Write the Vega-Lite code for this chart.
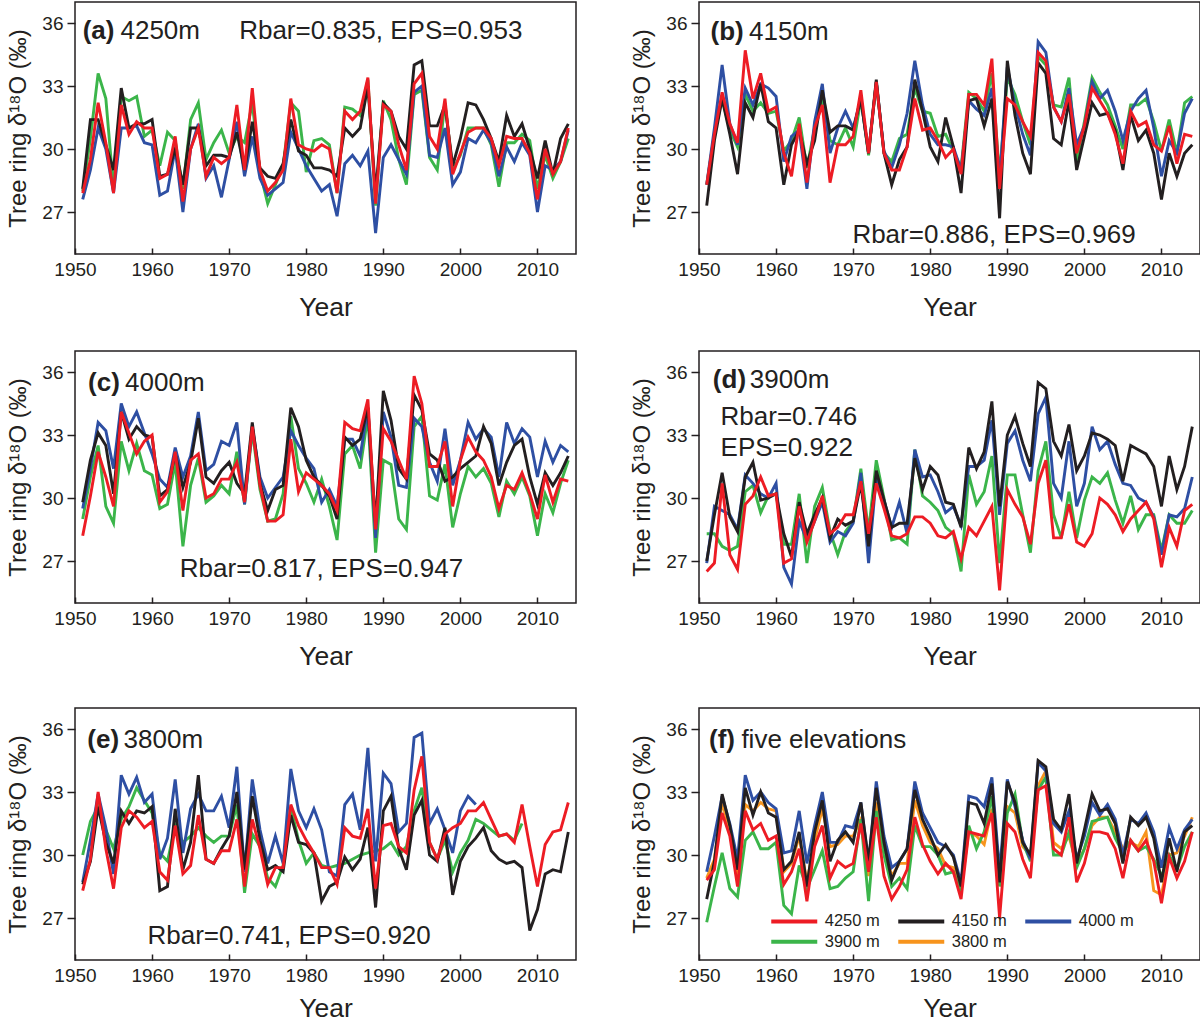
{
"$schema": "https://vega.github.io/schema/vega-lite/v6.json",
"padding": {"left": 6, "top": 1, "right": 0, "bottom": 0},
"config": {
 "font": "Liberation Sans",
 "view": {"stroke": "#231f20", "strokeWidth": 1.5},
 "axis": {"domain": false, "grid": false, "labelFont": "Liberation Sans", "labelFontSize": 19, "labelColor": "#231f20", "titleFont": "Liberation Sans", "titleFontWeight": "normal", "titleColor": "#231f20", "tickColor": "#231f20", "tickWidth": 1.5},
 "axisX": {"tickSize": -6, "labelPadding": 12, "titleFontSize": 26.5, "titlePadding": 15},
 "axisY": {"tickSize": 8, "labelPadding": 4, "titleFontSize": 24, "titlePadding": 11},
 "text": {"color": "#231f20", "fontSize": 26, "align": "left", "baseline": "middle"}
},
"datasets": {
"trees": [
{"p":"a","year":1951,"s1":28.0,"s2":27.6,"s3":28.1,"s4":27.9},
{"p":"a","year":1952,"s1":30.5,"s2":29.0,"s3":31.4,"s4":29.5},
{"p":"a","year":1953,"s1":33.6,"s2":31.0,"s3":31.4,"s4":32.2},
{"p":"a","year":1954,"s1":32.4,"s2":30.0,"s3":30.2,"s4":30.3},
{"p":"a","year":1955,"s1":28.1,"s2":27.9,"s3":29.0,"s4":27.9},
{"p":"a","year":1956,"s1":32.5,"s2":31.0,"s3":32.9,"s4":32.1},
{"p":"a","year":1957,"s1":32.3,"s2":31.0,"s3":31.0,"s4":30.7},
{"p":"a","year":1958,"s1":32.5,"s2":31.1,"s3":31.2,"s4":31.3},
{"p":"a","year":1959,"s1":30.6,"s2":30.3,"s3":31.2,"s4":31.0},
{"p":"a","year":1960,"s1":30.9,"s2":30.2,"s3":31.4,"s4":31.0},
{"p":"a","year":1961,"s1":29.2,"s2":27.8,"s3":28.7,"s4":28.6},
{"p":"a","year":1962,"s1":30.8,"s2":28.0,"s3":28.8,"s4":28.8},
{"p":"a","year":1963,"s1":30.4,"s2":30.0,"s3":30.0,"s4":30.6},
{"p":"a","year":1964,"s1":28.1,"s2":27.0,"s3":28.3,"s4":27.5},
{"p":"a","year":1965,"s1":31.4,"s2":30.0,"s3":31.0,"s4":30.0},
{"p":"a","year":1966,"s1":32.2,"s2":31.2,"s3":31.0,"s4":31.0},
{"p":"a","year":1967,"s1":29.5,"s2":28.6,"s3":29.2,"s4":28.7},
{"p":"a","year":1968,"s1":30.3,"s2":29.2,"s3":29.7,"s4":29.6},
{"p":"a","year":1969,"s1":30.9,"s2":27.7,"s3":29.7,"s4":29.3},
{"p":"a","year":1970,"s1":29.8,"s2":29.5,"s3":29.6,"s4":29.6},
{"p":"a","year":1971,"s1":30.6,"s2":31.3,"s3":30.8,"s4":32.1},
{"p":"a","year":1972,"s1":30.3,"s2":28.7,"s3":29.0,"s4":29.0},
{"p":"a","year":1973,"s1":32.2,"s2":30.6,"s3":31.3,"s4":32.9},
{"p":"a","year":1974,"s1":28.9,"s2":28.6,"s3":29.1,"s4":29.0},
{"p":"a","year":1975,"s1":27.4,"s2":27.8,"s3":28.7,"s4":28.0},
{"p":"a","year":1976,"s1":28.3,"s2":28.1,"s3":28.6,"s4":28.4},
{"p":"a","year":1977,"s1":29.2,"s2":28.4,"s3":29.3,"s4":29.0},
{"p":"a","year":1978,"s1":32.2,"s2":30.8,"s3":31.4,"s4":32.4},
{"p":"a","year":1979,"s1":31.8,"s2":30.0,"s3":29.9,"s4":30.2},
{"p":"a","year":1980,"s1":28.9,"s2":29.2,"s3":29.7,"s4":30.0},
{"p":"a","year":1981,"s1":30.4,"s2":28.6,"s3":29.1,"s4":29.9},
{"p":"a","year":1982,"s1":30.5,"s2":28.0,"s3":29.1,"s4":30.2},
{"p":"a","year":1983,"s1":30.2,"s2":28.3,"s3":29.0,"s4":30.0},
{"p":"a","year":1984,"s1":27.9,"s2":26.8,"s3":28.7,"s4":27.9},
{"p":"a","year":1985,"s1":32.0,"s2":29.3,"s3":31.0,"s4":31.8},
{"p":"a","year":1986,"s1":31.9,"s2":29.7,"s3":30.6,"s4":31.4},
{"p":"a","year":1987,"s1":31.6,"s2":29.2,"s3":31.0,"s4":31.8},
{"p":"a","year":1988,"s1":33.3,"s2":29.9,"s3":33.0,"s4":33.4},
{"p":"a","year":1989,"s1":27.3,"s2":26.0,"s3":27.9,"s4":27.4},
{"p":"a","year":1990,"s1":32.3,"s2":29.6,"s3":32.2,"s4":32.1},
{"p":"a","year":1991,"s1":31.4,"s2":30.2,"s3":31.8,"s4":31.8},
{"p":"a","year":1992,"s1":29.5,"s2":29.5,"s3":30.6,"s4":30.2},
{"p":"a","year":1993,"s1":28.3,"s2":28.8,"s3":30.0,"s4":29.0},
{"p":"a","year":1994,"s1":32.6,"s2":32.7,"s3":34.0,"s4":33.1},
{"p":"a","year":1995,"s1":32.8,"s2":33.0,"s3":34.2,"s4":33.6},
{"p":"a","year":1996,"s1":29.6,"s2":29.7,"s3":31.1,"s4":30.6},
{"p":"a","year":1997,"s1":29.0,"s2":29.6,"s3":31.1,"s4":30.0},
{"p":"a","year":1998,"s1":32.2,"s2":31.0,"s3":32.1,"s4":32.4},
{"p":"a","year":1999,"s1":29.0,"s2":28.3,"s3":29.2,"s4":28.8},
{"p":"a","year":2000,"s1":29.7,"s2":28.9,"s3":30.5,"s4":29.8},
{"p":"a","year":2001,"s1":31.0,"s2":30.5,"s3":32.2,"s4":30.8},
{"p":"a","year":2002,"s1":31.0,"s2":30.3,"s3":32.1,"s4":31.0},
{"p":"a","year":2003,"s1":31.0,"s2":30.9,"s3":31.4,"s4":31.0},
{"p":"a","year":2004,"s1":30.2,"s2":30.3,"s3":30.5,"s4":30.5},
{"p":"a","year":2005,"s1":28.2,"s2":28.7,"s3":29.4,"s4":29.2},
{"p":"a","year":2006,"s1":30.3,"s2":30.1,"s3":31.6,"s4":30.6},
{"p":"a","year":2007,"s1":30.3,"s2":29.4,"s3":30.6,"s4":30.5},
{"p":"a","year":2008,"s1":30.7,"s2":30.3,"s3":31.2,"s4":30.5},
{"p":"a","year":2009,"s1":30.4,"s2":29.7,"s3":30.0,"s4":29.8},
{"p":"a","year":2010,"s1":28.1,"s2":27.0,"s3":28.6,"s4":27.6},
{"p":"a","year":2011,"s1":29.7,"s2":29.2,"s3":30.4,"s4":30.0},
{"p":"a","year":2012,"s1":28.6,"s2":29.0,"s3":28.8,"s4":28.8},
{"p":"a","year":2013,"s1":29.4,"s2":29.4,"s3":30.5,"s4":29.4},
{"p":"a","year":2014,"s1":30.5,"s2":30.9,"s3":31.2,"s4":31.0},
{"p":"b","year":1951,"s1":28.3,"s2":28.3,"s3":27.3,"s4":28.3},
{"p":"b","year":1952,"s1":30.7,"s2":31.0,"s3":30.4,"s4":30.7},
{"p":"b","year":1953,"s1":32.4,"s2":34.0,"s3":32.4,"s4":32.7},
{"p":"b","year":1954,"s1":30.9,"s2":31.2,"s3":30.7,"s4":31.2},
{"p":"b","year":1955,"s1":30.1,"s2":30.2,"s3":28.8,"s4":30.3},
{"p":"b","year":1956,"s1":32.6,"s2":32.9,"s3":32.2,"s4":34.7},
{"p":"b","year":1957,"s1":31.8,"s2":32.1,"s3":31.5,"s4":32.4},
{"p":"b","year":1958,"s1":32.2,"s2":33.1,"s3":33.1,"s4":33.6},
{"p":"b","year":1959,"s1":31.7,"s2":32.9,"s3":31.3,"s4":31.8},
{"p":"b","year":1960,"s1":31.8,"s2":32.5,"s3":31.0,"s4":32.0},
{"p":"b","year":1961,"s1":29.9,"s2":29.4,"s3":28.3,"s4":29.8},
{"p":"b","year":1962,"s1":30.4,"s2":30.6,"s3":30.2,"s4":28.7},
{"p":"b","year":1963,"s1":31.5,"s2":30.9,"s3":30.9,"s4":31.2},
{"p":"b","year":1964,"s1":29.1,"s2":28.1,"s3":29.3,"s4":28.4},
{"p":"b","year":1965,"s1":31.0,"s2":31.3,"s3":30.4,"s4":31.0},
{"p":"b","year":1966,"s1":32.4,"s2":33.1,"s3":32.8,"s4":32.1},
{"p":"b","year":1967,"s1":30.4,"s2":29.8,"s3":30.8,"s4":28.4},
{"p":"b","year":1968,"s1":30.2,"s2":31.0,"s3":31.1,"s4":30.2},
{"p":"b","year":1969,"s1":31.0,"s2":31.8,"s3":31.1,"s4":30.2},
{"p":"b","year":1970,"s1":30.1,"s2":31.0,"s3":30.9,"s4":30.6},
{"p":"b","year":1971,"s1":32.4,"s2":32.4,"s3":32.4,"s4":32.8},
{"p":"b","year":1972,"s1":29.7,"s2":29.8,"s3":29.8,"s4":29.8},
{"p":"b","year":1973,"s1":33.2,"s2":33.2,"s3":33.3,"s4":33.2},
{"p":"b","year":1974,"s1":29.8,"s2":29.9,"s3":29.8,"s4":29.8},
{"p":"b","year":1975,"s1":29.4,"s2":29.1,"s3":28.3,"s4":29.0},
{"p":"b","year":1976,"s1":30.5,"s2":30.2,"s3":29.5,"s4":29.0},
{"p":"b","year":1977,"s1":30.7,"s2":31.7,"s3":30.1,"s4":30.1},
{"p":"b","year":1978,"s1":32.9,"s2":34.2,"s3":33.3,"s4":32.4},
{"p":"b","year":1979,"s1":31.8,"s2":32.1,"s3":31.8,"s4":30.9},
{"p":"b","year":1980,"s1":31.7,"s2":30.7,"s3":30.1,"s4":31.0},
{"p":"b","year":1981,"s1":30.6,"s2":30.2,"s3":29.4,"s4":30.4},
{"p":"b","year":1982,"s1":30.7,"s2":30.2,"s3":31.5,"s4":29.6},
{"p":"b","year":1983,"s1":29.9,"s2":30.1,"s3":30.1,"s4":30.0},
{"p":"b","year":1984,"s1":29.1,"s2":29.0,"s3":27.9,"s4":28.8},
{"p":"b","year":1985,"s1":32.7,"s2":32.3,"s3":32.3,"s4":32.6},
{"p":"b","year":1986,"s1":32.4,"s2":31.9,"s3":32.4,"s4":32.6},
{"p":"b","year":1987,"s1":31.8,"s2":31.6,"s3":31.1,"s4":32.1},
{"p":"b","year":1988,"s1":33.6,"s2":32.9,"s3":32.4,"s4":34.3},
{"p":"b","year":1989,"s1":28.7,"s2":28.5,"s3":26.7,"s4":28.1},
{"p":"b","year":1990,"s1":33.4,"s2":33.9,"s3":34.2,"s4":32.4},
{"p":"b","year":1991,"s1":32.6,"s2":32.1,"s3":31.6,"s4":32.1},
{"p":"b","year":1992,"s1":31.3,"s2":30.7,"s3":29.8,"s4":31.3},
{"p":"b","year":1993,"s1":30.2,"s2":29.7,"s3":28.8,"s4":30.6},
{"p":"b","year":1994,"s1":34.4,"s2":35.1,"s3":34.1,"s4":34.6},
{"p":"b","year":1995,"s1":34.0,"s2":34.6,"s3":33.6,"s4":34.2},
{"p":"b","year":1996,"s1":32.1,"s2":32.0,"s3":30.5,"s4":32.0},
{"p":"b","year":1997,"s1":32.0,"s2":31.3,"s3":30.2,"s4":31.3},
{"p":"b","year":1998,"s1":33.4,"s2":32.9,"s3":32.3,"s4":32.6},
{"p":"b","year":1999,"s1":29.4,"s2":30.2,"s3":29.0,"s4":29.8},
{"p":"b","year":2000,"s1":31.3,"s2":31.1,"s3":30.6,"s4":31.1},
{"p":"b","year":2001,"s1":33.4,"s2":33.2,"s3":32.2,"s4":32.9},
{"p":"b","year":2002,"s1":32.7,"s2":32.4,"s3":31.6,"s4":32.3},
{"p":"b","year":2003,"s1":32.1,"s2":32.8,"s3":31.7,"s4":31.7},
{"p":"b","year":2004,"s1":31.1,"s2":31.8,"s3":30.9,"s4":30.7},
{"p":"b","year":2005,"s1":30.0,"s2":30.4,"s3":29.0,"s4":29.3},
{"p":"b","year":2006,"s1":32.1,"s2":31.8,"s3":31.6,"s4":31.8},
{"p":"b","year":2007,"s1":32.1,"s2":32.4,"s3":30.4,"s4":31.1},
{"p":"b","year":2008,"s1":32.4,"s2":32.8,"s3":30.9,"s4":31.3},
{"p":"b","year":2009,"s1":31.3,"s2":31.0,"s3":29.8,"s4":30.2},
{"p":"b","year":2010,"s1":29.9,"s2":28.7,"s3":27.6,"s4":29.9},
{"p":"b","year":2011,"s1":31.4,"s2":30.4,"s3":29.8,"s4":31.1},
{"p":"b","year":2012,"s1":29.8,"s2":29.8,"s3":28.7,"s4":29.3},
{"p":"b","year":2013,"s1":32.2,"s2":31.7,"s3":29.8,"s4":30.7},
{"p":"b","year":2014,"s1":32.5,"s2":32.4,"s3":30.2,"s4":30.6},
{"p":"c","year":1951,"s1":29.0,"s2":29.5,"s3":29.8,"s4":28.2},
{"p":"c","year":1952,"s1":31.0,"s2":31.4,"s3":31.8,"s4":30.1},
{"p":"c","year":1953,"s1":32.5,"s2":33.6,"s3":33.1,"s4":32.2},
{"p":"c","year":1954,"s1":29.6,"s2":33.2,"s3":32.5,"s4":31.0},
{"p":"c","year":1955,"s1":28.8,"s2":31.4,"s3":30.2,"s4":29.6},
{"p":"c","year":1956,"s1":32.7,"s2":34.5,"s3":34.1,"s4":34.1},
{"p":"c","year":1957,"s1":31.3,"s2":33.4,"s3":32.8,"s4":33.1},
{"p":"c","year":1958,"s1":32.6,"s2":34.1,"s3":33.4,"s4":32.1},
{"p":"c","year":1959,"s1":31.3,"s2":33.1,"s3":33.0,"s4":32.7},
{"p":"c","year":1960,"s1":31.1,"s2":32.1,"s3":32.9,"s4":33.0},
{"p":"c","year":1961,"s1":29.5,"s2":30.9,"s3":30.1,"s4":29.8},
{"p":"c","year":1962,"s1":29.7,"s2":30.5,"s3":30.4,"s4":30.3},
{"p":"c","year":1963,"s1":31.7,"s2":32.4,"s3":32.1,"s4":32.2},
{"p":"c","year":1964,"s1":27.7,"s2":31.0,"s3":30.5,"s4":29.4},
{"p":"c","year":1965,"s1":30.6,"s2":32.0,"s3":31.7,"s4":31.8},
{"p":"c","year":1966,"s1":31.9,"s2":34.1,"s3":33.8,"s4":32.1},
{"p":"c","year":1967,"s1":29.8,"s2":31.3,"s3":31.0,"s4":30.0},
{"p":"c","year":1968,"s1":30.1,"s2":31.6,"s3":30.7,"s4":30.2},
{"p":"c","year":1969,"s1":30.6,"s2":32.7,"s3":31.3,"s4":30.9},
{"p":"c","year":1970,"s1":30.2,"s2":32.5,"s3":31.7,"s4":30.9},
{"p":"c","year":1971,"s1":32.2,"s2":33.6,"s3":30.7,"s4":31.7},
{"p":"c","year":1972,"s1":29.7,"s2":29.7,"s3":30.2,"s4":29.8},
{"p":"c","year":1973,"s1":33.2,"s2":33.4,"s3":33.6,"s4":33.4},
{"p":"c","year":1974,"s1":30.4,"s2":31.0,"s3":30.7,"s4":30.6},
{"p":"c","year":1975,"s1":28.9,"s2":30.0,"s3":29.4,"s4":28.9},
{"p":"c","year":1976,"s1":29.0,"s2":30.5,"s3":30.4,"s4":28.9},
{"p":"c","year":1977,"s1":30.2,"s2":31.0,"s3":30.6,"s4":29.2},
{"p":"c","year":1978,"s1":33.9,"s2":33.2,"s3":34.3,"s4":32.8},
{"p":"c","year":1979,"s1":31.4,"s2":32.5,"s3":33.4,"s4":30.3},
{"p":"c","year":1980,"s1":30.7,"s2":31.9,"s3":31.8,"s4":31.2},
{"p":"c","year":1981,"s1":29.8,"s2":31.4,"s3":31.0,"s4":30.9},
{"p":"c","year":1982,"s1":30.9,"s2":29.8,"s3":30.6,"s4":30.6},
{"p":"c","year":1983,"s1":29.6,"s2":30.4,"s3":30.1,"s4":30.2},
{"p":"c","year":1984,"s1":28.0,"s2":29.6,"s3":29.0,"s4":29.4},
{"p":"c","year":1985,"s1":32.1,"s2":32.8,"s3":32.9,"s4":33.6},
{"p":"c","year":1986,"s1":32.5,"s2":32.8,"s3":32.5,"s4":33.3},
{"p":"c","year":1987,"s1":31.4,"s2":32.0,"s3":32.8,"s4":33.2},
{"p":"c","year":1988,"s1":33.9,"s2":34.3,"s3":34.3,"s4":34.7},
{"p":"c","year":1989,"s1":27.4,"s2":28.1,"s3":28.7,"s4":28.5},
{"p":"c","year":1990,"s1":31.8,"s2":34.1,"s3":35.1,"s4":33.3},
{"p":"c","year":1991,"s1":31.6,"s2":32.9,"s3":33.7,"s4":32.7},
{"p":"c","year":1992,"s1":29.0,"s2":30.6,"s3":31.4,"s4":31.8},
{"p":"c","year":1993,"s1":28.5,"s2":30.5,"s3":30.9,"s4":30.9},
{"p":"c","year":1994,"s1":33.4,"s2":33.8,"s3":34.9,"s4":35.8},
{"p":"c","year":1995,"s1":33.9,"s2":33.4,"s3":34.2,"s4":34.5},
{"p":"c","year":1996,"s1":30.1,"s2":31.7,"s3":32.1,"s4":31.5},
{"p":"c","year":1997,"s1":29.9,"s2":30.8,"s3":31.8,"s4":31.5},
{"p":"c","year":1998,"s1":31.6,"s2":33.3,"s3":30.8,"s4":32.7},
{"p":"c","year":1999,"s1":28.6,"s2":30.6,"s3":31.0,"s4":29.6},
{"p":"c","year":2000,"s1":30.2,"s2":31.8,"s3":31.4,"s4":31.8},
{"p":"c","year":2001,"s1":31.5,"s2":33.6,"s3":31.7,"s4":32.9},
{"p":"c","year":2002,"s1":31.0,"s2":32.8,"s3":32.0,"s4":32.2},
{"p":"c","year":2003,"s1":31.4,"s2":33.3,"s3":33.4,"s4":31.8},
{"p":"c","year":2004,"s1":30.7,"s2":32.9,"s3":32.6,"s4":31.0},
{"p":"c","year":2005,"s1":29.1,"s2":31.0,"s3":30.6,"s4":29.5},
{"p":"c","year":2006,"s1":30.8,"s2":33.6,"s3":31.7,"s4":30.6},
{"p":"c","year":2007,"s1":30.2,"s2":32.6,"s3":32.5,"s4":30.4},
{"p":"c","year":2008,"s1":31.0,"s2":33.3,"s3":32.8,"s4":31.2},
{"p":"c","year":2009,"s1":30.1,"s2":32.9,"s3":31.0,"s4":30.2},
{"p":"c","year":2010,"s1":28.2,"s2":31.0,"s3":29.7,"s4":29.0},
{"p":"c","year":2011,"s1":30.2,"s2":32.7,"s3":31.2,"s4":31.1},
{"p":"c","year":2012,"s1":29.3,"s2":31.7,"s3":30.6,"s4":29.8},
{"p":"c","year":2013,"s1":30.7,"s2":32.5,"s3":31.2,"s4":30.9},
{"p":"c","year":2014,"s1":31.8,"s2":32.2,"s3":32.0,"s4":30.8},
{"p":"d","year":1951,"s1":28.3,"s2":26.9,"s3":27.0,"s4":26.5},
{"p":"d","year":1952,"s1":28.3,"s2":29.6,"s3":29.2,"s4":26.9},
{"p":"d","year":1953,"s1":27.7,"s2":29.4,"s3":31.2,"s4":30.7},
{"p":"d","year":1954,"s1":27.5,"s2":29.2,"s3":29.1,"s4":27.3},
{"p":"d","year":1955,"s1":27.7,"s2":28.5,"s3":28.4,"s4":26.6},
{"p":"d","year":1956,"s1":30.3,"s2":31.1,"s3":31.0,"s4":29.7},
{"p":"d","year":1957,"s1":30.6,"s2":30.7,"s3":31.7,"s4":30.1},
{"p":"d","year":1958,"s1":29.3,"s2":30.2,"s3":29.9,"s4":31.0},
{"p":"d","year":1959,"s1":30.1,"s2":30.0,"s3":30.0,"s4":30.1},
{"p":"d","year":1960,"s1":30.2,"s2":30.7,"s3":30.2,"s4":30.2},
{"p":"d","year":1961,"s1":27.8,"s2":26.7,"s3":28.3,"s4":26.9},
{"p":"d","year":1962,"s1":27.8,"s2":25.9,"s3":27.2,"s4":27.1},
{"p":"d","year":1963,"s1":30.2,"s2":28.9,"s3":29.8,"s4":29.6},
{"p":"d","year":1964,"s1":26.9,"s2":28.0,"s3":28.3,"s4":27.9},
{"p":"d","year":1965,"s1":29.6,"s2":28.9,"s3":29.2,"s4":28.9},
{"p":"d","year":1966,"s1":30.5,"s2":29.8,"s3":30.0,"s4":30.1},
{"p":"d","year":1967,"s1":28.4,"s2":27.9,"s3":28.1,"s4":28.3},
{"p":"d","year":1968,"s1":27.3,"s2":28.4,"s3":29.0,"s4":28.6},
{"p":"d","year":1969,"s1":28.4,"s2":28.2,"s3":28.7,"s4":29.2},
{"p":"d","year":1970,"s1":28.9,"s2":28.8,"s3":28.9,"s4":29.2},
{"p":"d","year":1971,"s1":31.4,"s2":31.2,"s3":30.7,"s4":30.8},
{"p":"d","year":1972,"s1":28.4,"s2":26.9,"s3":27.7,"s4":28.3},
{"p":"d","year":1973,"s1":31.8,"s2":31.0,"s3":31.3,"s4":30.7},
{"p":"d","year":1974,"s1":30.0,"s2":29.9,"s3":29.9,"s4":29.5},
{"p":"d","year":1975,"s1":28.0,"s2":28.6,"s3":28.6,"s4":28.2},
{"p":"d","year":1976,"s1":28.1,"s2":29.8,"s3":28.8,"s4":28.1},
{"p":"d","year":1977,"s1":27.8,"s2":28.3,"s3":28.8,"s4":28.3},
{"p":"d","year":1978,"s1":32.3,"s2":32.3,"s3":31.9,"s4":29.1},
{"p":"d","year":1979,"s1":30.1,"s2":31.0,"s3":30.4,"s4":29.1},
{"p":"d","year":1980,"s1":29.8,"s2":31.1,"s3":31.5,"s4":28.8},
{"p":"d","year":1981,"s1":29.4,"s2":30.3,"s3":31.1,"s4":28.2},
{"p":"d","year":1982,"s1":28.6,"s2":29.3,"s3":29.8,"s4":28.1},
{"p":"d","year":1983,"s1":28.3,"s2":29.6,"s3":29.7,"s4":28.4},
{"p":"d","year":1984,"s1":26.5,"s2":28.7,"s3":28.6,"s4":27.1},
{"p":"d","year":1985,"s1":31.1,"s2":31.5,"s3":32.4,"s4":28.6},
{"p":"d","year":1986,"s1":29.7,"s2":31.5,"s3":31.4,"s4":28.2},
{"p":"d","year":1987,"s1":30.3,"s2":31.8,"s3":32.2,"s4":28.9},
{"p":"d","year":1988,"s1":32.0,"s2":33.7,"s3":34.6,"s4":29.6},
{"p":"d","year":1989,"s1":26.9,"s2":29.2,"s3":29.6,"s4":25.6},
{"p":"d","year":1990,"s1":31.1,"s2":32.6,"s3":33.0,"s4":30.4},
{"p":"d","year":1991,"s1":31.1,"s2":33.2,"s3":33.9,"s4":29.7},
{"p":"d","year":1992,"s1":29.2,"s2":31.8,"s3":32.6,"s4":29.1},
{"p":"d","year":1993,"s1":27.4,"s2":30.8,"s3":31.5,"s4":27.8},
{"p":"d","year":1994,"s1":31.3,"s2":34.0,"s3":35.5,"s4":30.7},
{"p":"d","year":1995,"s1":32.7,"s2":34.8,"s3":35.2,"s4":31.8},
{"p":"d","year":1996,"s1":29.2,"s2":30.7,"s3":32.7,"s4":28.1},
{"p":"d","year":1997,"s1":28.1,"s2":30.0,"s3":32.0,"s4":28.1},
{"p":"d","year":1998,"s1":30.3,"s2":32.7,"s3":33.5,"s4":29.7},
{"p":"d","year":1999,"s1":28.1,"s2":29.6,"s3":31.3,"s4":27.9},
{"p":"d","year":2000,"s1":29.9,"s2":30.7,"s3":32.0,"s4":27.7},
{"p":"d","year":2001,"s1":31.0,"s2":33.4,"s3":33.1,"s4":28.3},
{"p":"d","year":2002,"s1":30.7,"s2":32.3,"s3":33.0,"s4":30.0},
{"p":"d","year":2003,"s1":31.2,"s2":32.7,"s3":32.8,"s4":29.7},
{"p":"d","year":2004,"s1":29.9,"s2":31.6,"s3":32.5,"s4":29.2},
{"p":"d","year":2005,"s1":28.8,"s2":30.7,"s3":30.8,"s4":28.4},
{"p":"d","year":2006,"s1":30.1,"s2":30.6,"s3":32.5,"s4":29.0},
{"p":"d","year":2007,"s1":28.5,"s2":30.0,"s3":32.3,"s4":29.4},
{"p":"d","year":2008,"s1":29.2,"s2":29.8,"s3":32.1,"s4":29.8},
{"p":"d","year":2009,"s1":29.2,"s2":29.1,"s3":31.5,"s4":29.0},
{"p":"d","year":2010,"s1":27.5,"s2":27.3,"s3":29.6,"s4":26.7},
{"p":"d","year":2011,"s1":29.2,"s2":29.2,"s3":32.0,"s4":28.6},
{"p":"d","year":2012,"s1":28.8,"s2":29.1,"s3":30.4,"s4":27.7},
{"p":"d","year":2013,"s1":28.8,"s2":29.5,"s3":31.5,"s4":29.4},
{"p":"d","year":2014,"s1":29.4,"s2":31.0,"s3":33.4,"s4":29.7},
{"p":"e","year":1951,"s1":30.0,"s2":28.7,"s3":28.6,"s4":28.3},
{"p":"e","year":1952,"s1":31.6,"s2":30.7,"s3":29.7,"s4":29.8},
{"p":"e","year":1953,"s1":32.3,"s2":32.9,"s3":32.3,"s4":33.0},
{"p":"e","year":1954,"s1":31.2,"s2":31.3,"s3":30.6,"s4":30.3},
{"p":"e","year":1955,"s1":30.3,"s2":29.1,"s3":29.6,"s4":28.4},
{"p":"e","year":1956,"s1":31.7,"s2":33.8,"s3":32.1,"s4":31.3},
{"p":"e","year":1957,"s1":32.3,"s2":32.9,"s3":31.5,"s4":32.1},
{"p":"e","year":1958,"s1":33.2,"s2":33.7,"s3":32.1,"s4":31.8},
{"p":"e","year":1959,"s1":32.6,"s2":32.5,"s3":32.0,"s4":31.3},
{"p":"e","year":1960,"s1":32.0,"s2":32.9,"s3":32.3,"s4":31.6},
{"p":"e","year":1961,"s1":30.1,"s2":29.8,"s3":28.3,"s4":29.2},
{"p":"e","year":1962,"s1":29.7,"s2":30.8,"s3":28.5,"s4":28.8},
{"p":"e","year":1963,"s1":31.4,"s2":33.6,"s3":32.2,"s4":31.4},
{"p":"e","year":1964,"s1":30.6,"s2":30.1,"s3":29.3,"s4":29.1},
{"p":"e","year":1965,"s1":30.9,"s2":32.2,"s3":30.6,"s4":29.5},
{"p":"e","year":1966,"s1":31.3,"s2":32.9,"s3":33.8,"s4":31.9},
{"p":"e","year":1967,"s1":30.9,"s2":32.1,"s3":29.8,"s4":29.8},
{"p":"e","year":1968,"s1":30.6,"s2":32.1,"s3":29.6,"s4":29.6},
{"p":"e","year":1969,"s1":30.9,"s2":32.8,"s3":30.3,"s4":30.2},
{"p":"e","year":1970,"s1":30.9,"s2":31.3,"s3":30.9,"s4":30.2},
{"p":"e","year":1971,"s1":32.4,"s2":34.2,"s3":33.0,"s4":31.7},
{"p":"e","year":1972,"s1":28.2,"s2":29.2,"s3":29.3,"s4":28.5},
{"p":"e","year":1973,"s1":31.0,"s2":33.6,"s3":32.8,"s4":31.7},
{"p":"e","year":1974,"s1":30.4,"s2":31.2,"s3":30.7,"s4":30.3},
{"p":"e","year":1975,"s1":28.9,"s2":29.6,"s3":29.3,"s4":28.6},
{"p":"e","year":1976,"s1":28.5,"s2":30.9,"s3":29.5,"s4":29.4},
{"p":"e","year":1977,"s1":29.5,"s2":29.6,"s3":29.2,"s4":29.4},
{"p":"e","year":1978,"s1":32.3,"s2":34.1,"s3":31.9,"s4":32.4},
{"p":"e","year":1979,"s1":30.7,"s2":32.1,"s3":30.6,"s4":31.4},
{"p":"e","year":1980,"s1":29.6,"s2":31.3,"s3":30.5,"s4":30.7},
{"p":"e","year":1981,"s1":30.1,"s2":32.2,"s3":30.1,"s4":30.1},
{"p":"e","year":1982,"s1":29.5,"s2":31.2,"s3":27.8,"s4":29.4},
{"p":"e","year":1983,"s1":29.4,"s2":29.2,"s3":28.5,"s4":29.4},
{"p":"e","year":1984,"s1":29.5,"s2":29.0,"s3":28.7,"s4":28.6},
{"p":"e","year":1985,"s1":29.6,"s2":32.4,"s3":29.9,"s4":31.3},
{"p":"e","year":1986,"s1":29.8,"s2":32.9,"s3":29.3,"s4":30.9},
{"p":"e","year":1987,"s1":30.0,"s2":31.2,"s3":29.8,"s4":30.8},
{"p":"e","year":1988,"s1":30.1,"s2":35.1,"s3":31.3,"s4":32.2},
{"p":"e","year":1989,"s1":30.2,"s2":29.7,"s3":27.5,"s4":28.4},
{"p":"e","year":1990,"s1":30.3,"s2":33.9,"s3":32.1,"s4":31.4},
{"p":"e","year":1991,"s1":30.6,"s2":33.4,"s3":32.8,"s4":31.5},
{"p":"e","year":1992,"s1":30.0,"s2":31.1,"s3":30.3,"s4":30.4},
{"p":"e","year":1993,"s1":30.4,"s2":31.5,"s3":29.3,"s4":30.1},
{"p":"e","year":1994,"s1":32.1,"s2":35.6,"s3":31.9,"s4":33.1},
{"p":"e","year":1995,"s1":33.2,"s2":35.8,"s3":32.6,"s4":34.7},
{"p":"e","year":1996,"s1":30.6,"s2":31.5,"s3":30.0,"s4":30.6},
{"p":"e","year":1997,"s1":29.8,"s2":32.2,"s3":29.7,"s4":29.8},
{"p":"e","year":1998,"s1":30.7,"s2":31.2,"s3":31.3,"s4":31.0},
{"p":"e","year":1999,"s1":29.2,"s2":30.1,"s3":28.1,"s4":31.3},
{"p":"e","year":2000,"s1":30.1,"s2":32.1,"s3":29.7,"s4":31.5},
{"p":"e","year":2001,"s1":30.7,"s2":32.8,"s3":30.4,"s4":32.1},
{"p":"e","year":2002,"s1":31.7,"s2":32.4,"s3":30.8,"s4":32.1},
{"p":"e","year":2003,"s1":31.5,"s2":null,"s3":31.3,"s4":32.5},
{"p":"e","year":2004,"s1":31.2,"s2":null,"s3":30.2,"s4":31.7},
{"p":"e","year":2005,"s1":30.9,"s2":null,"s3":29.8,"s4":30.9},
{"p":"e","year":2006,"s1":31.0,"s2":null,"s3":29.6,"s4":31.0},
{"p":"e","year":2007,"s1":30.7,"s2":null,"s3":29.7,"s4":30.6},
{"p":"e","year":2008,"s1":31.5,"s2":null,"s3":29.4,"s4":32.4},
{"p":"e","year":2009,"s1":null,"s2":null,"s3":26.4,"s4":30.4},
{"p":"e","year":2010,"s1":null,"s2":null,"s3":27.4,"s4":28.5},
{"p":"e","year":2011,"s1":null,"s2":null,"s3":29.1,"s4":30.5},
{"p":"e","year":2012,"s1":null,"s2":null,"s3":29.3,"s4":31.1},
{"p":"e","year":2013,"s1":null,"s2":null,"s3":29.2,"s4":31.2},
{"p":"e","year":2014,"s1":null,"s2":null,"s3":31.1,"s4":32.5}
],
"elev": [
{"year":1951,"m3800":28.9,"m3900":26.8,"m4000":29.2,"m4150":27.9,"m4250":28.8},
{"year":1952,"m3800":29.8,"m3900":28.5,"m4000":30.9,"m4150":29.7,"m4250":29.3},
{"year":1953,"m3800":32.5,"m3900":30.1,"m4000":32.8,"m4150":32.9,"m4250":32.0},
{"year":1954,"m3800":31.2,"m3900":28.4,"m4000":31.5,"m4150":31.4,"m4250":30.9},
{"year":1955,"m3800":29.0,"m3900":28.0,"m4000":29.8,"m4150":29.3,"m4250":28.5},
{"year":1956,"m3800":32.4,"m3900":30.7,"m4000":33.8,"m4150":33.2,"m4250":32.1},
{"year":1957,"m3800":32.1,"m3900":31.1,"m4000":32.6,"m4150":31.9,"m4250":31.2},
{"year":1958,"m3800":32.5,"m3900":30.3,"m4000":33.0,"m4150":33.0,"m4250":31.5},
{"year":1959,"m3800":32.2,"m3900":30.3,"m4000":32.5,"m4150":32.0,"m4250":30.7},
{"year":1960,"m3800":32.1,"m3900":30.6,"m4000":32.2,"m4150":31.8,"m4250":30.9},
{"year":1961,"m3800":29.2,"m3900":27.6,"m4000":30.1,"m4150":29.3,"m4250":28.6},
{"year":1962,"m3800":29.6,"m3900":27.2,"m4000":30.2,"m4150":29.7,"m4250":29.2},
{"year":1963,"m3800":30.9,"m3900":29.5,"m4000":32.1,"m4150":31.1,"m4250":30.3},
{"year":1964,"m3800":28.7,"m3900":28.4,"m4000":29.6,"m4150":28.5,"m4250":27.8},
{"year":1965,"m3800":30.7,"m3900":29.3,"m4000":31.4,"m4150":31.1,"m4250":30.4},
{"year":1966,"m3800":32.2,"m3900":30.2,"m4000":33.0,"m4150":32.6,"m4250":31.4},
{"year":1967,"m3800":30.4,"m3900":28.4,"m4000":30.6,"m4150":29.7,"m4250":28.9},
{"year":1968,"m3800":30.5,"m3900":28.5,"m4000":30.6,"m4150":30.7,"m4250":29.7},
{"year":1969,"m3800":30.9,"m3900":28.9,"m4000":31.4,"m4150":31.1,"m4250":29.4},
{"year":1970,"m3800":30.9,"m3900":29.2,"m4000":31.3,"m4150":30.6,"m4250":29.6},
{"year":1971,"m3800":31.7,"m3900":31.7,"m4000":32.5,"m4150":32.5,"m4250":31.5},
{"year":1972,"m3800":29.0,"m3900":27.8,"m4000":29.6,"m4150":29.7,"m4250":29.2},
{"year":1973,"m3800":32.5,"m3900":32.1,"m4000":33.5,"m4150":33.2,"m4250":31.8},
{"year":1974,"m3800":30.4,"m3900":30.0,"m4000":30.9,"m4150":30.6,"m4250":29.0},
{"year":1975,"m3800":29.0,"m3900":28.5,"m4000":29.4,"m4150":28.8,"m4250":27.9},
{"year":1976,"m3800":29.6,"m3900":28.9,"m4000":29.7,"m4150":29.7,"m4250":28.5},
{"year":1977,"m3800":29.6,"m3900":28.4,"m4000":30.3,"m4150":30.3,"m4250":29.3},
{"year":1978,"m3800":32.6,"m3900":31.4,"m4000":33.5,"m4150":33.1,"m4250":31.8},
{"year":1979,"m3800":31.4,"m3900":30.4,"m4000":32.0,"m4150":31.7,"m4250":30.5},
{"year":1980,"m3800":30.6,"m3900":30.4,"m4000":31.3,"m4150":30.9,"m4250":29.7},
{"year":1981,"m3800":30.3,"m3900":30.0,"m4000":30.6,"m4150":30.0,"m4250":29.1},
{"year":1982,"m3800":29.5,"m3900":29.1,"m4000":30.4,"m4150":30.5,"m4250":29.6},
{"year":1983,"m3800":29.4,"m3900":29.2,"m4000":30.0,"m4150":29.9,"m4250":29.2},
{"year":1984,"m3800":28.4,"m3900":28.2,"m4000":28.7,"m4150":28.5,"m4250":27.9},
{"year":1985,"m3800":31.1,"m3900":31.4,"m4000":32.8,"m4150":32.5,"m4250":31.1},
{"year":1986,"m3800":30.9,"m3900":30.3,"m4000":32.7,"m4150":32.4,"m4250":31.0},
{"year":1987,"m3800":30.5,"m3900":31.1,"m4000":32.3,"m4150":31.5,"m4250":30.9},
{"year":1988,"m3800":32.2,"m3900":32.8,"m4000":33.7,"m4150":33.4,"m4250":32.0},
{"year":1989,"m3800":28.7,"m3900":28.5,"m4000":29.2,"m4150":28.7,"m4250":27.0},
{"year":1990,"m3800":32.3,"m3900":32.0,"m4000":33.6,"m4150":33.5,"m4250":31.5},
{"year":1991,"m3800":32.0,"m3900":32.9,"m4000":32.3,"m4150":32.5,"m4250":31.1},
{"year":1992,"m3800":30.4,"m3900":30.6,"m4000":30.7,"m4150":30.6,"m4250":29.8},
{"year":1993,"m3800":30.0,"m3900":29.7,"m4000":29.8,"m4150":30.0,"m4250":28.9},
{"year":1994,"m3800":33.3,"m3900":33.1,"m4000":34.4,"m4150":34.5,"m4250":33.1},
{"year":1995,"m3800":34.0,"m3900":33.7,"m4000":34.0,"m4150":34.2,"m4250":33.3},
{"year":1996,"m3800":30.6,"m3900":30.0,"m4000":31.5,"m4150":31.7,"m4250":30.3},
{"year":1997,"m3800":30.3,"m3900":30.0,"m4000":31.1,"m4150":31.2,"m4250":30.0},
{"year":1998,"m3800":30.9,"m3900":31.1,"m4000":32.1,"m4150":32.9,"m4250":31.8},
{"year":1999,"m3800":29.5,"m3900":29.4,"m4000":29.8,"m4150":29.6,"m4250":28.7},
{"year":2000,"m3800":30.3,"m3900":30.3,"m4000":30.9,"m4150":31.2,"m4250":29.6},
{"year":2001,"m3800":31.4,"m3900":31.6,"m4000":32.5,"m4150":32.9,"m4250":31.1},
{"year":2002,"m3800":31.8,"m3900":31.7,"m4000":31.9,"m4150":32.1,"m4250":31.1},
{"year":2003,"m3800":31.8,"m3900":31.8,"m4000":32.4,"m4150":32.2,"m4250":31.0},
{"year":2004,"m3800":31.1,"m3900":30.8,"m4000":31.7,"m4150":31.5,"m4250":30.3},
{"year":2005,"m3800":30.3,"m3900":30.1,"m4000":30.0,"m4150":29.6,"m4250":28.9},
{"year":2006,"m3800":30.6,"m3900":30.7,"m4000":31.7,"m4150":31.8,"m4250":30.7},
{"year":2007,"m3800":30.4,"m3900":30.2,"m4000":31.5,"m4150":31.4,"m4250":30.2},
{"year":2008,"m3800":31.1,"m3900":30.4,"m4000":32.0,"m4150":31.8,"m4250":30.7},
{"year":2009,"m3800":28.3,"m3900":29.8,"m4000":31.1,"m4150":30.8,"m4250":29.7},
{"year":2010,"m3800":28.1,"m3900":29.0,"m4000":29.4,"m4150":28.7,"m4250":27.7},
{"year":2011,"m3800":30.0,"m3900":30.0,"m4000":31.3,"m4150":30.8,"m4250":29.9},
{"year":2012,"m3800":30.1,"m3900":29.3,"m4000":30.3,"m4150":29.2,"m4250":28.9},
{"year":2013,"m3800":30.9,"m3900":30.4,"m4000":31.2,"m4150":31.1,"m4250":29.7},
{"year":2014,"m3800":31.8,"m3900":31.1,"m4000":31.7,"m4150":31.4,"m4250":31.1}
]
},
"spacing": 28,
"resolve": {"scale": {"color": "independent"}, "legend": {"color": "independent"}},
"vconcat": [
{"hconcat": [
 {"width": 501, "height": 252, "layer": [
  {"data": {"name": "trees"}, "transform": [{"filter": "datum.p === 'a'"}, {"fold": ["s1","s2","s3","s4"], "as": ["series","v"]}],
   "mark": {"type": "line", "strokeWidth": 2.9},
   "encoding": {
    "x": {"field": "year", "type": "quantitative", "scale": {"domain": [1950, 2015], "nice": false, "zero": false}, "axis": {"title": "Year", "values": [1950,1955,1960,1965,1970,1975,1980,1985,1990,1995,2000,2005,2010,2015], "format": "d", "labelExpr": "datum.value % 10 === 0 ? datum.label : ''", "labelFlush": false}},
    "y": {"field": "v", "type": "quantitative", "scale": {"domain": [25, 37], "nice": false, "zero": false}, "axis": {"title": "Tree ring δ¹⁸O (‰)", "values": [27,30,33,36]}},
    "color": {"field": "series", "type": "nominal", "scale": {"domain": ["s1","s2","s3","s4"], "range": ["#3bb54a","#2e4fa3","#231f20","#ed1c24"]}, "legend": null}}},
  {"data": {"values": [{"t": "(a)"}]}, "mark": {"type": "text", "fontWeight": "bold"}, "encoding": {"x": {"datum": 1951.0}, "y": {"datum": 35.6}, "text": {"field": "t"}}},
  {"data": {"values": [{"t": "4250m"}]}, "mark": {"type": "text"}, "encoding": {"x": {"datum": 1955.9}, "y": {"datum": 35.6}, "text": {"field": "t"}}},
  {"data": {"values": [{"t": "Rbar=0.835, EPS=0.953"}]}, "mark": {"type": "text"}, "encoding": {"x": {"datum": 1971.3}, "y": {"datum": 35.6}, "text": {"field": "t"}}}
 ]},
 {"width": 501, "height": 252, "layer": [
  {"data": {"name": "trees"}, "transform": [{"filter": "datum.p === 'b'"}, {"fold": ["s1","s2","s3","s4"], "as": ["series","v"]}],
   "mark": {"type": "line", "strokeWidth": 2.9},
   "encoding": {
    "x": {"field": "year", "type": "quantitative", "scale": {"domain": [1950, 2015], "nice": false, "zero": false}, "axis": {"title": "Year", "values": [1950,1955,1960,1965,1970,1975,1980,1985,1990,1995,2000,2005,2010,2015], "format": "d", "labelExpr": "datum.value % 10 === 0 ? datum.label : ''", "labelFlush": false}},
    "y": {"field": "v", "type": "quantitative", "scale": {"domain": [25, 37], "nice": false, "zero": false}, "axis": {"title": "Tree ring δ¹⁸O (‰)", "values": [27,30,33,36]}},
    "color": {"field": "series", "type": "nominal", "scale": {"domain": ["s1","s2","s3","s4"], "range": ["#3bb54a","#2e4fa3","#231f20","#ed1c24"]}, "legend": null}}},
  {"data": {"values": [{"t": "(b)"}]}, "mark": {"type": "text", "fontWeight": "bold"}, "encoding": {"x": {"datum": 1951.5}, "y": {"datum": 35.55}, "text": {"field": "t"}}},
  {"data": {"values": [{"t": "4150m"}]}, "mark": {"type": "text"}, "encoding": {"x": {"datum": 1956.5}, "y": {"datum": 35.55}, "text": {"field": "t"}}},
  {"data": {"values": [{"t": "Rbar=0.886, EPS=0.969"}]}, "mark": {"type": "text"}, "encoding": {"x": {"datum": 1969.9}, "y": {"datum": 25.9}, "text": {"field": "t"}}}
 ]}
], "spacing": 53, "resolve": {"scale": {"color": "independent"}, "legend": {"color": "independent"}}},
{"vconcat": [
{"hconcat": [
 {"width": 501, "height": 252, "layer": [
  {"data": {"name": "trees"}, "transform": [{"filter": "datum.p === 'c'"}, {"fold": ["s1","s2","s3","s4"], "as": ["series","v"]}],
   "mark": {"type": "line", "strokeWidth": 2.9},
   "encoding": {
    "x": {"field": "year", "type": "quantitative", "scale": {"domain": [1950, 2015], "nice": false, "zero": false}, "axis": {"title": "Year", "values": [1950,1955,1960,1965,1970,1975,1980,1985,1990,1995,2000,2005,2010,2015], "format": "d", "labelExpr": "datum.value % 10 === 0 ? datum.label : ''", "labelFlush": false}},
    "y": {"field": "v", "type": "quantitative", "scale": {"domain": [25, 37], "nice": false, "zero": false}, "axis": {"title": "Tree ring δ¹⁸O (‰)", "values": [27,30,33,36]}},
    "color": {"field": "series", "type": "nominal", "scale": {"domain": ["s1","s2","s3","s4"], "range": ["#3bb54a","#2e4fa3","#231f20","#ed1c24"]}, "legend": null}}},
  {"data": {"values": [{"t": "(c)"}]}, "mark": {"type": "text", "fontWeight": "bold"}, "encoding": {"x": {"datum": 1951.7}, "y": {"datum": 35.5}, "text": {"field": "t"}}},
  {"data": {"values": [{"t": "4000m"}]}, "mark": {"type": "text"}, "encoding": {"x": {"datum": 1956.5}, "y": {"datum": 35.5}, "text": {"field": "t"}}},
  {"data": {"values": [{"t": "Rbar=0.817, EPS=0.947"}]}, "mark": {"type": "text"}, "encoding": {"x": {"datum": 1963.6}, "y": {"datum": 26.6}, "text": {"field": "t"}}}
 ]},
 {"width": 501, "height": 252, "layer": [
  {"data": {"name": "trees"}, "transform": [{"filter": "datum.p === 'd'"}, {"fold": ["s1","s2","s3","s4"], "as": ["series","v"]}],
   "mark": {"type": "line", "strokeWidth": 2.9},
   "encoding": {
    "x": {"field": "year", "type": "quantitative", "scale": {"domain": [1950, 2015], "nice": false, "zero": false}, "axis": {"title": "Year", "values": [1950,1955,1960,1965,1970,1975,1980,1985,1990,1995,2000,2005,2010,2015], "format": "d", "labelExpr": "datum.value % 10 === 0 ? datum.label : ''", "labelFlush": false}},
    "y": {"field": "v", "type": "quantitative", "scale": {"domain": [25, 37], "nice": false, "zero": false}, "axis": {"title": "Tree ring δ¹⁸O (‰)", "values": [27,30,33,36]}},
    "color": {"field": "series", "type": "nominal", "scale": {"domain": ["s1","s2","s3","s4"], "range": ["#3bb54a","#2e4fa3","#231f20","#ed1c24"]}, "legend": null}}},
  {"data": {"values": [{"t": "(d)"}]}, "mark": {"type": "text", "fontWeight": "bold"}, "encoding": {"x": {"datum": 1951.8}, "y": {"datum": 35.6}, "text": {"field": "t"}}},
  {"data": {"values": [{"t": "3900m"}]}, "mark": {"type": "text"}, "encoding": {"x": {"datum": 1956.6}, "y": {"datum": 35.6}, "text": {"field": "t"}}},
  {"data": {"values": [{"t": "Rbar=0.746"}]}, "mark": {"type": "text"}, "encoding": {"x": {"datum": 1952.8}, "y": {"datum": 33.87}, "text": {"field": "t"}}},
  {"data": {"values": [{"t": "EPS=0.922"}]}, "mark": {"type": "text"}, "encoding": {"x": {"datum": 1952.8}, "y": {"datum": 32.36}, "text": {"field": "t"}}}
 ]}
], "spacing": 53, "resolve": {"scale": {"color": "independent"}, "legend": {"color": "independent"}}},
{"hconcat": [
 {"width": 501, "height": 252, "layer": [
  {"data": {"name": "trees"}, "transform": [{"filter": "datum.p === 'e'"}, {"fold": ["s1","s2","s3","s4"], "as": ["series","v"]}],
   "mark": {"type": "line", "strokeWidth": 2.9},
   "encoding": {
    "x": {"field": "year", "type": "quantitative", "scale": {"domain": [1950, 2015], "nice": false, "zero": false}, "axis": {"title": "Year", "titlePadding": 10, "values": [1950,1955,1960,1965,1970,1975,1980,1985,1990,1995,2000,2005,2010,2015], "format": "d", "labelExpr": "datum.value % 10 === 0 ? datum.label : ''", "labelFlush": false}},
    "y": {"field": "v", "type": "quantitative", "scale": {"domain": [25, 37], "nice": false, "zero": false}, "axis": {"title": "Tree ring δ¹⁸O (‰)", "values": [27,30,33,36]}},
    "color": {"field": "series", "type": "nominal", "scale": {"domain": ["s1","s2","s3","s4"], "range": ["#3bb54a","#2e4fa3","#231f20","#ed1c24"]}, "legend": null}}},
  {"data": {"values": [{"t": "(e)"}]}, "mark": {"type": "text", "fontWeight": "bold"}, "encoding": {"x": {"datum": 1951.6}, "y": {"datum": 35.5}, "text": {"field": "t"}}},
  {"data": {"values": [{"t": "3800m"}]}, "mark": {"type": "text"}, "encoding": {"x": {"datum": 1956.3}, "y": {"datum": 35.5}, "text": {"field": "t"}}},
  {"data": {"values": [{"t": "Rbar=0.741, EPS=0.920"}]}, "mark": {"type": "text"}, "encoding": {"x": {"datum": 1959.4}, "y": {"datum": 26.16}, "text": {"field": "t"}}}
 ]},
 {"width": 501, "height": 252, "layer": [
  {"data": {"name": "elev"}, "transform": [{"fold": ["m3800","m3900","m4000","m4150","m4250"], "as": ["series","v"]}],
   "mark": {"type": "line", "strokeWidth": 2.9},
   "encoding": {
    "x": {"field": "year", "type": "quantitative", "scale": {"domain": [1950, 2015], "nice": false, "zero": false}, "axis": {"title": "Year", "titlePadding": 10, "values": [1950,1955,1960,1965,1970,1975,1980,1985,1990,1995,2000,2005,2010,2015], "format": "d", "labelExpr": "datum.value % 10 === 0 ? datum.label : ''", "labelFlush": false}},
    "y": {"field": "v", "type": "quantitative", "scale": {"domain": [25, 37], "nice": false, "zero": false}, "axis": {"title": "Tree ring δ¹⁸O (‰)", "values": [27,30,33,36]}},
    "color": {"field": "series", "type": "nominal", "scale": {"domain": ["m4250","m4150","m4000","m3900","m3800"], "range": ["#ed1c24","#231f20","#2e4fa3","#3bb54a","#f7941d"]},
      "legend": {"orient": "none", "legendX": 87, "legendY": 205, "columns": 3, "direction": "horizontal", "title": null, "symbolType": "M-4,0H4", "symbolSize": 132.25, "symbolStrokeWidth": 4, "labelFontSize": 16.5, "labelFont": "Liberation Sans", "labelColor": "#231f20", "labelOffset": 22.25, "columnPadding": 10, "rowPadding": 3.5, "labelExpr": "substring(datum.label, 1) + ' m'"}}}},
  {"data": {"values": [{"t": "(f)"}]}, "mark": {"type": "text", "fontWeight": "bold"}, "encoding": {"x": {"datum": 1951.3}, "y": {"datum": 35.5}, "text": {"field": "t"}}},
  {"data": {"values": [{"t": "five elevations"}]}, "mark": {"type": "text"}, "encoding": {"x": {"datum": 1955.5}, "y": {"datum": 35.5}, "text": {"field": "t"}}}
 ]}
], "spacing": 53, "resolve": {"scale": {"color": "independent"}, "legend": {"color": "independent"}}}
], "spacing": 36, "resolve": {"scale": {"color": "independent"}, "legend": {"color": "independent"}}}
]
}
